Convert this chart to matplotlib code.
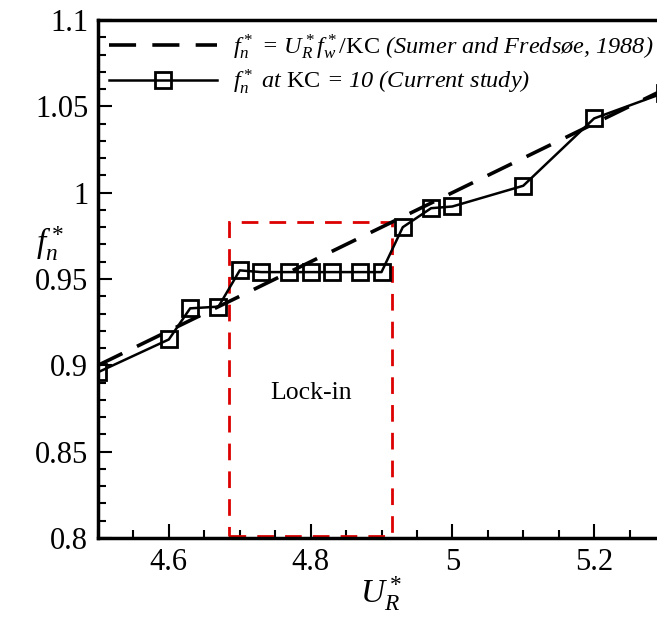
import matplotlib
matplotlib.use("Agg")
import matplotlib.pyplot as plt
from matplotlib.ticker import MultipleLocator
from matplotlib.patches import Rectangle

plt.rcParams['font.family'] = ['Liberation Serif', 'DejaVu Serif']
plt.rcParams['mathtext.fontset'] = 'custom'
plt.rcParams['mathtext.rm'] = 'Liberation Serif'
plt.rcParams['mathtext.it'] = 'Liberation Serif:italic'
plt.rcParams['mathtext.bf'] = 'Liberation Serif:bold'

# Data
theory_x = [4.5, 5.3]
theory_y = [0.9, 1.06]

study_x = [4.5, 4.6, 4.63, 4.67, 4.70, 4.73, 4.77, 4.80, 4.83, 4.87, 4.90,
           4.93, 4.97, 5.0, 5.1, 5.2, 5.3]
study_y = [0.896, 0.915, 0.933, 0.934, 0.955, 0.954, 0.954, 0.954, 0.954, 0.954, 0.954,
           0.980, 0.991, 0.992, 1.004, 1.043, 1.058]

lock_x = [4.685, 4.915]
lock_y = [0.801, 0.983]
lock_label = "Lock-in"

xticks = [4.6, 4.8, 5.0, 5.2]
xticklabels = ["4.6", "4.8", "5", "5.2"]
yticks = [0.8, 0.85, 0.9, 0.95, 1.0, 1.05, 1.1]
yticklabels = ["0.8", "0.85", "0.9", "0.95", "1", "1.05", "1.1"]

W, H = 657, 617
fig = plt.figure(figsize=(W / 100, H / 100), dpi=100)
ax = fig.add_axes([98 / W, 1 - 538 / H, (665 - 98) / W, (538 - 20) / H])

ax.plot(theory_x, theory_y, color='black', lw=2.6, dashes=(7.5, 4.5),
        label=r"$f_n^*$ = $U_R^* f_w^*/\mathrm{KC}$ (Sumer and Fredsøe, 1988)", zorder=3)
ax.plot(study_x, study_y, color='black', lw=1.8, marker='s', ms=12,
        mfc='none', mec='black', mew=2.0,
        label=r"$f_n^*$ at $\mathrm{KC}$ = 10 (Current study)", zorder=4)

ax.add_patch(Rectangle((lock_x[0], lock_y[0]), lock_x[1] - lock_x[0], lock_y[1] - lock_y[0],
                       fill=False, edgecolor='#dd0000', lw=2.0, linestyle=(0, (6, 4)), zorder=2))
ax.text(sum(lock_x) / 2, 0.884, lock_label, ha='center', va='center', fontsize=18.5)

ax.set_xlim(4.5, 5.3)
ax.set_ylim(0.8, 1.1)
ax.set_xticks(xticks)
ax.set_xticklabels(xticklabels)
ax.set_yticks(yticks)
ax.set_yticklabels(yticklabels)
ax.xaxis.set_minor_locator(MultipleLocator(0.05))
ax.yaxis.set_minor_locator(MultipleLocator(0.01))
ax.tick_params(which='both', direction='in', labelsize=22, width=1.5)
ax.tick_params(which='major', length=10, pad=7)
ax.tick_params(which='minor', length=6)
for s in ax.spines.values():
    s.set_linewidth(2.5)

ax.set_xlabel(r"$U_R^*$", fontsize=24, labelpad=0)
ax.xaxis.set_label_coords(0.5, -0.07)
ax.set_ylabel(r"$f_n^*$", fontsize=24, rotation=0, labelpad=0)
ax.yaxis.set_label_coords(-0.085, 0.53)

leg = ax.legend(loc='upper left', bbox_to_anchor=(-0.019, 1.018), frameon=False,
                fontsize=17.5, handlelength=4.45, handletextpad=0.66, labelspacing=0.25)
for t in leg.get_texts():
    t.set_fontstyle('italic')

fig.savefig("out.png", dpi=100)
